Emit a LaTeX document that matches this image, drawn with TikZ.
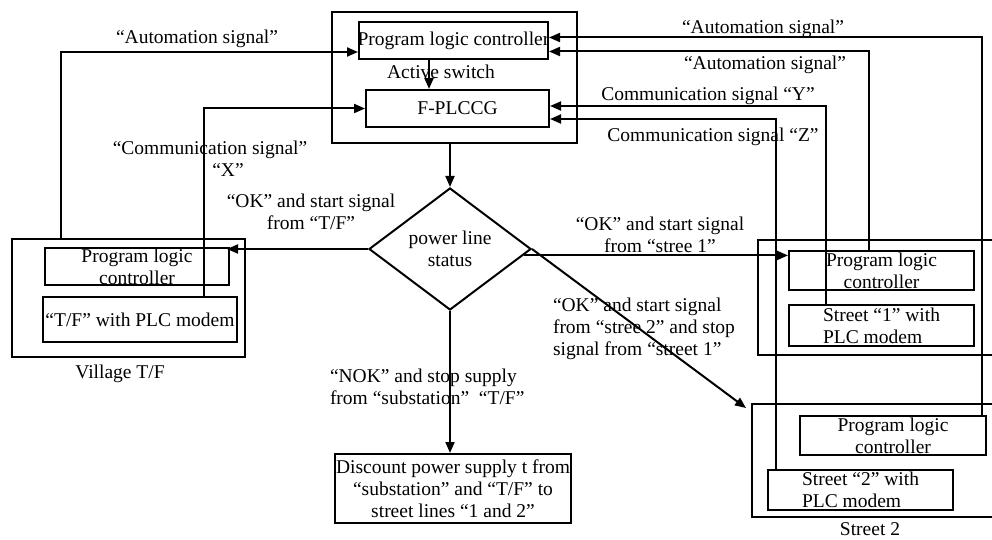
\documentclass[tikz,border=0pt]{standalone}
\usepackage{fontspec}
\setmainfont{Liberation Serif}
\usetikzlibrary{shapes.geometric,arrows.meta}

\begin{document}
\begin{tikzpicture}[x=1pt,y=-1pt,
    font=\fontsize{19.5}{22}\selectfont,
    line width=2pt,
    unit/.style 2 args={draw, inner sep=0pt, minimum width=#1, minimum height=#2},
    txt/.style={inner sep=1pt, align=center},
    sig/.style={-{Triangle[length=11pt,width=9pt]}},
    decision/.style={draw, diamond, aspect=1.33, inner sep=0pt,
      minimum width=162pt, minimum height=122pt, align=center}]
    \useasboundingbox (0,0) rectangle (992,540);
    % Nodes
    \node[unit={245pt}{131pt}] (ctrl) at (454.5,77.5) {}; %
    \node[unit={189pt}{37pt}, label={[txt]center:Program logic controller}] (plcT) at (453.5,40.5) {}; %
    \node[unit={183pt}{37pt}, label={[txt]center:F-PLCCG}] (fplc) at (457.5,108.5) {}; %
    \node[decision] (status) at (450,249) {power line\\status}; %
    \node[unit={236pt}{69pt}, label={[txt]center:Discount power supply t from\\“substation” and “T/F” to\\street lines “1 and 2”}] (disc) at (453,488.5) {}; %
    % Village T/F
    \node[unit={233pt}{118pt}] (vil) at (128.5,298) {}; %
    \node[unit={184pt}{37pt}, label={[txt]center:Program logic\\controller}] (plcV) at (137,266.5) {}; %
    \node[unit={194pt}{45pt}, label={[txt]center:“T/F” with PLC modem}] (modV) at (140,319.5) {}; %
    % Street 1
    \node[unit={252pt}{115pt}] (st1) at (884,297.5) {}; %
    \node[unit={185pt}{39pt}, label={[txt]center:Program logic\\controller}] (plcA) at (881.5,270.5) {}; %
    \node[unit={185pt}{41pt}, label={[txt,align=left]center:Street “1” with\\PLC modem}] (modA) at (881.5,325.5) {}; %
    % Street 2
    \node[unit={258pt}{113pt}] (st2) at (881,460.5) {}; %
    \node[unit={186pt}{39pt}, label={[txt]center:Program logic\\controller}] (plcB) at (893,435.5) {}; %
    \node[unit={185pt}{40pt}, label={[txt,align=left]center:Street “2” with\\PLC modem}] (modB) at (860.5,490) {}; %
    % Texts
    \node[txt] (swlab) at (441,71.5) {Active switch}; %
    \node[txt] (autoV) at (197,38.5) {“Automation signal”}; %
    \node[txt] (commV) at (210,149.5) {“Communication signal”}; %
    \node[txt] (commVx) at (228,170.5) {“X”}; %
    \node[txt] (auto2) at (763,28.5) {“Automation signal”}; %
    \node[txt] (auto1) at (765,64.5) {“Automation signal”}; %
    \node[txt] (commY) at (708,95.5) {Communication signal “Y”}; %
    \node[txt] (commZ) at (713,136.5) {Communication signal “Z”}; %
    \node[txt] (okV) at (311,212) {“OK” and start signal\\from “T/F”}; %
    \node[txt] (ok1) at (660,234.5) {“OK” and start signal\\from “stree 1”}; %
    \node[txt, align=left, anchor=west] (ok2) at (551,328.5) {“OK” and start signal\\from “stree 2” and stop\\signal from “street 1”}; %
    \node[txt, align=left, anchor=west] (nok) at (328,387) {“NOK” and stop supply\\from “substation”\ \ “T/F”}; %
    \node[txt] (vlab) at (120,373.5) {Village T/F}; %
    \node[txt] (s2lab) at (870,529.5) {Street 2}; %
    % Edges
    \draw[sig] ([xshift=-24.5pt]plcT.south) -- ([xshift=-24.5pt]plcT.south |- fplc.north); %
    \draw[sig] (ctrl.south -| status.north) -- (status.north); %
    \draw[sig, shorten >=-3pt] (status.west) -- (status.west -| plcV.east); %
    \draw[sig] (status.-5) -- (status.-5 -| plcA.west); %
    \draw[sig] (status.east) -- ([shift={(-5pt,-5pt)}]st2.north west); %
    \draw[sig] (status.south) -- (status.south |- disc.north); %
    % Signals
    \draw[sig] ([xshift=50pt]vil.north west) |- ([yshift=8pt]plcT.south west); %
    \draw[sig] ([xshift=-34pt]modV.north east) |- (fplc.west); %
    \draw[sig] ([xshift=-5pt]plcB.north east) |- ([yshift=3pt]plcT.east); %
    \draw[sig] ([xshift=81pt]plcA.north west) |- ([yshift=-11pt]plcT.east); %
    \draw[sig] ([xshift=38pt]modA.north west) |- ([yshift=2.5pt]fplc.east); %
    \draw[sig] ([xshift=9pt]modB.north west) |- ([yshift=-10.5pt]fplc.east); %
\end{tikzpicture}
\end{document}
